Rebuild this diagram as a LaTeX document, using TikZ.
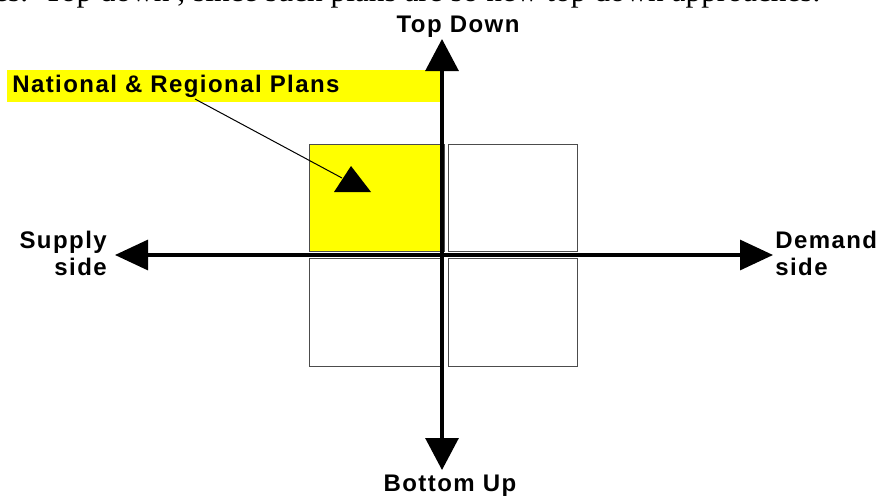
\documentclass[tikz,border=0pt]{standalone}
\usepackage{fontspec}
\setmainfont{Liberation Serif}
\newfontfamily\lab[LetterSpace=6]{Liberation Sans}
\usetikzlibrary{arrows.meta}
\definecolor{pureyellow}{RGB}{255,255,0}
\tikzset{vtip/.tip={Triangle[length=24pt,width=24.75pt]},
  htip/.tip={Triangle[length=24.75pt,width=22.5pt]}}
\begin{document}
\begin{tikzpicture}[x=0.75pt,y=-0.75pt,
  lbl/.style={inner sep=0pt,font=\lab\bfseries\fontsize{18}{20}\selectfont},
  cell/.style={draw=black!70,line width=0.75pt,anchor=north west,inner sep=0pt},
  axis/.style={line width=2.4pt}]
\useasboundingbox (0,0) rectangle (884,496);
\begin{scope}
\clip (0,0) rectangle (884,496);
\node (cut) [anchor=base west,inner sep=0pt,font=\fontsize{23.5}{26}\selectfont] at (-6,1.5) {es.\ \ Top down , since such plans are so new top down approaches.};
% boxes
\node (tl) [cell,fill=pureyellow,minimum width=101.25pt,minimum height=80.25pt] at (309,144) {};
\node (tr) [cell,minimum width=96.75pt,minimum height=80.25pt] at (448,144) {};
\node (bl) [cell,minimum width=100.5pt,minimum height=81pt] at (309,258) {};
\node (br) [cell,minimum width=96.75pt,minimum height=81pt] at (448,258) {};
% label band
\node (nrp) [anchor=north west,fill=pureyellow,inner sep=0pt,minimum height=24pt,text width=326.25pt,align=left,font=\lab\bfseries\fontsize{18}{20}\selectfont] at (7,70) {\hspace*{3.75pt}National \& Regional Plans};
% axes
\coordinate (top) at (442,39);
\coordinate (bot) at (442,470);
\coordinate (lft) at (115,255);
\coordinate (rgt) at (773,255);
\draw[axis,{vtip}-{vtip}] (bot) -- (top);
\draw[axis,{htip}-{htip}] (lft) -- (rgt);
% callout
\coordinate (c0) at (195,99);
\coordinate (c1) at (342,178);
\draw[line width=0.75pt] (c0) -- (c1);
\fill (351,166) -- (334,192) -- (371,192) -- cycle;
% labels
\node (td) [lbl,anchor=base] at (458,32) {Top Down};
\node (bu) [lbl,anchor=base] at (450,491) {Bottom Up};
\node (s1) [lbl,anchor=base east] at (107,248) {Supply};
\node (s2) [lbl,anchor=base east] at (107,275) {side};
\node (d1) [lbl,anchor=base west] at (775,248) {Demand};
\node (d2) [lbl,anchor=base west] at (775,275) {side};
\end{scope}
\end{tikzpicture}
\end{document}
